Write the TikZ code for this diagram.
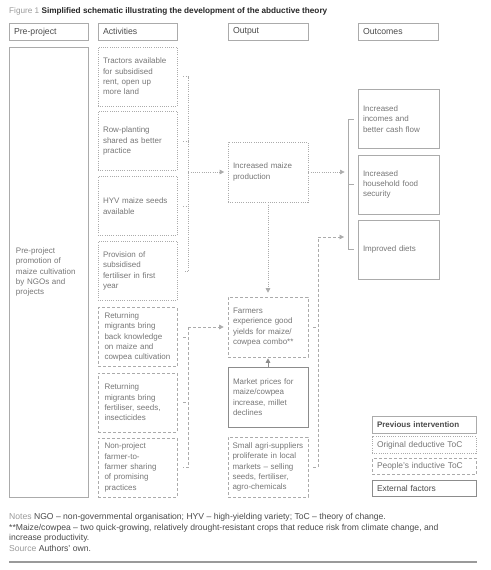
\documentclass[tikz,border=0pt]{standalone}
\usepackage{fontspec}
\setmainfont{Liberation Sans}
\usetikzlibrary{arrows.meta}
\definecolor{ln}{HTML}{ABABAB}
\definecolor{lndk}{HTML}{8C8C8C}
\definecolor{tx}{HTML}{767676}
\definecolor{hd}{HTML}{4A4A4A}
\definecolor{lbl}{HTML}{9A9A9A}
\begin{document}
\begin{tikzpicture}[x=1pt,y=-1pt,
  bx/.style={line width=0.6pt, inner xsep=5pt, inner ysep=0pt, align=left, text=tx,
    font=\fontsize{8}{10.3}\selectfont},
  dotb/.style={bx, draw=ln, dash pattern=on 0.9pt off 1.3pt},
  dashb/.style={bx, draw=ln, dash pattern=on 3pt off 2pt},
  solb/.style={bx, draw=ln, line width=0.8pt},
  extb/.style={bx, draw=lndk, line width=1pt},
  act/.style={text width=69pt, minimum height=59pt},
  outp/.style={text width=70pt, minimum height=60pt},
  outc/.style={text width=71pt, minimum height=59pt},
  hdr/.style={bx, draw=ln, line width=0.8pt, text=hd, text width=69pt, minimum height=17pt,
    font=\fontsize{8.7}{10}\selectfont},
  leg/.style={text width=94pt, minimum height=16.5pt, font=\fontsize{8.4}{10}\selectfont},
  dotl/.style={draw=ln, line width=0.6pt, dash pattern=on 0.9pt off 1.3pt},
  dashl/.style={draw=ln, line width=0.6pt, dash pattern=on 3pt off 2pt},
  soll/.style={draw=ln, line width=0.8pt},
  soldk/.style={draw=lndk, line width=0.8pt},
  arr/.style={-{Triangle[length=4.5pt,width=4.5pt]}},
  txt/.style={anchor=base west, inner sep=0pt, font=\fontsize{8.6}{10}\selectfont}
]
\useasboundingbox (0,0) rectangle (490,570);

% title
\node[txt, font=\fontsize{8.2}{9}\selectfont] (title) at (9,13)
  {\textcolor{lbl}{Figure 1} \textbf{\textcolor{black!85}{Simplified schematic illustrating the development of the abductive theory}}};

% headers
\node[hdr] (h1) at (48.5,31.75) {Pre-project};
\node[hdr] (h2) at (137.5,31.75) {Activities};
\node[hdr, text width=70pt] (h3) at (268,31.75) {Output};
\node[hdr, text width=70pt] (h4) at (398,31.75) {Outcomes};

% pre-project
\node[solb, inner xsep=7pt, text width=65pt, minimum height=450pt] (p1) at (48.5,272)
  {Pre-project\\promotion of\\maize cultivation\\by NGOs and\\projects};

% activities
\node[dotb, act] (a1) at (137.5,76.5) {Tractors available\\for subsidised\\rent, open up\\more land};
\node[dotb, act] (a2) at (137.5,141) {Row-planting\\shared as better\\practice};
\node[dotb, act] (a3) at (137.5,206) {HYV maize seeds\\available};
\node[dotb, act] (a4) at (137.5,271) {Provision of\\subsidised\\fertiliser in first\\year};
\node[dashb, act, inner xsep=6.5pt, text width=66pt] (a5) at (137.5,337) {Returning\\migrants bring\\back knowledge\\on maize and\\cowpea cultivation};
\node[dashb, act, inner xsep=6.5pt, text width=66pt] (a6) at (137.5,402.5) {Returning\\migrants bring\\fertiliser, seeds,\\insecticides};
\node[dashb, act, inner xsep=6.5pt, text width=66pt] (a7) at (137.5,467.5) {Non-project\\farmer-to-\\farmer sharing\\of promising\\practices};

% outputs
\node[dotb, outp] (o1) at (268,172) {Increased maize\\production};
\node[dashb, outp] (o2) at (268,327) {Farmers\\experience good\\yields for maize/\\cowpea combo**};
\node[extb, outp] (o3) at (268,397) {Market prices for\\maize/cowpea\\increase, millet\\declines};
\node[dashb, outp, inner xsep=4.5pt, text width=71pt] (o4) at (268,467) {Small agri-suppliers\\proliferate in local\\markets -- selling\\seeds, fertiliser,\\agro-chemicals};

% outcomes
\node[solb, outc] (c1) at (398.5,119) {Increased\\incomes and\\better cash flow};
\node[solb, outc] (c2) at (398.5,184.5) {Increased\\household food\\security};
\node[solb, outc] (c3) at (398.5,249.5) {Improved diets};

% legend
\node[solb, leg, text=hd, minimum height=17pt, font=\fontsize{8}{10}\selectfont] (l1) at (424,424.5) {\textbf{Previous intervention}};
\node[dotb, leg] (l2) at (424,445) {Original deductive ToC};
\node[dashb, leg] (l3) at (424,466.5) {People’s inductive ToC};
\node[extb, leg, text=hd] (l4) at (424,488.5) {External factors};

% bracket A (dotted)
\draw[dotl] ([xshift=6pt]a1.east) -- ++(5,0) coordinate (ba) |- ([xshift=6pt]a4.east);
\draw[dotl] ([xshift=6pt]a2.east) -- (ba |- a2.east);
\draw[dotl] ([xshift=6pt]a3.east) -- (ba |- a3.east);
\draw[dotl, arr, shorten >=3.5pt] (ba |- o1.west) -- (o1.west);

% bracket B (dashed)
\coordinate (bb) at (ba |- o2.west);
\draw[dashl, arr, shorten >=4pt] (bb) -- (o2.west);
\draw[dashl] (bb) |- ([xshift=6pt]a7.east);
\draw[dashl] ([xshift=6pt]a5.east) -- (bb |- a5.east);
\draw[dashl] ([xshift=6pt]a6.east) -- (bb |- a6.east);

% outcomes bracket
\draw[soll] ([xshift=-4pt]c1.west) -- ++(-5,0) coordinate (bc) |- ([xshift=-4pt]c3.west);
\draw[soll] ([xshift=-4pt]c2.west) -- (bc |- c2.west);
\draw[dotl, arr, shorten >=4pt] (o1.east) -- (bc |- o1.east);

% right dashed bracket
\coordinate (bd) at (318,237);
\draw[dashl, arr, shorten >=4.5pt] (bd) -- (bc |- bd);
\draw[dashl] ([xshift=5pt]o4.east) -| (bd);
\draw[dashl] ([xshift=5pt]o2.east) -- (bd |- o2.east);

% vertical arrows
\draw[dotl, arr, shorten >=4pt] (o1.south) -- (o2.north);
\draw[soldk, arr, shorten >=1pt] (o3.north) -- (o2.south);

% notes
\node[txt, text=hd] (n1) at (9,519.5) {\textcolor{lbl}{Notes} NGO -- non-governmental organisation; HYV -- high-yielding variety; ToC -- theory of change.};
\node[txt, text=hd] (n2) at (9,530) {**Maize/cowpea -- two quick-growing, relatively drought-resistant crops that reduce risk from climate change, and};
\node[txt, text=hd] (n3) at (9,540.5) {increase productivity.};
\node[txt, text=hd] (n4) at (9,551) {\textcolor{lbl}{Source} Authors’ own.};

\draw[draw=lbl, line width=2pt] (9,562) -- (477,562);
\end{tikzpicture}
\end{document}
